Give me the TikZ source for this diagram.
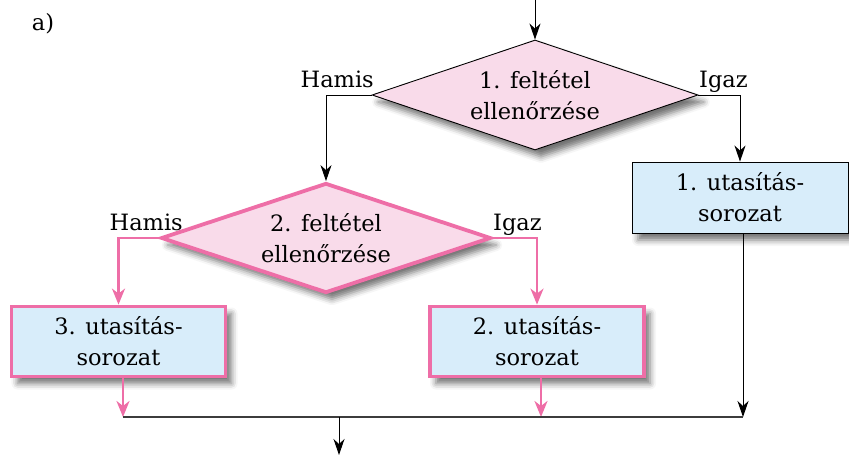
\documentclass[tikz,border=0pt]{standalone}
\usepackage{fontspec}
\setmainfont{DejaVu Serif}
\usetikzlibrary{shapes.geometric,arrows.meta,shadows.blur}
\definecolor{rozsa}{RGB}{238,110,167}
\definecolor{rozsafill}{RGB}{249,219,234}
\definecolor{kekfill}{RGB}{216,237,250}
\definecolor{vonal}{RGB}{60,60,60}

\begin{document}
\begin{tikzpicture}[x=1pt,y=-1pt,
  every node/.style={font=\fontsize{22.5}{31}\selectfont},
  arnyek/.style={blur shadow={shadow xshift=6pt,shadow yshift=-7pt,shadow blur radius=6pt,shadow opacity=55}},
  dontes/.style={diamond,aspect=2.95,inner sep=0pt,fill=rozsafill,align=center,arnyek},
  blokk/.style={rectangle,inner sep=0pt,fill=kekfill,align=center,arnyek},
  fekete/.style={draw=black,line width=0.9pt},
  rozsaszel/.style={draw=rozsa,line width=3.8pt},
  nyil/.style={-{Stealth[length=16pt,width=11pt,inset=5pt]},line width=1pt,draw=black},
  rnyil/.style={-{Stealth[length=16pt,width=13pt,inset=5pt]},line width=2.4pt,draw=rozsa},
  cimke/.style={inner sep=0pt}
]
\useasboundingbox (0,0) rectangle (849,455);

% label of the figure part
\node[cimke] (jel) at (43,24) {a)};

% decisions
\node[dontes,fekete,minimum width=326pt,minimum height=110pt] (d1) at (535,95)
  {1. feltétel\\ellenőrzése};
\node[dontes,rozsaszel,minimum width=330pt,minimum height=110pt] (d2) at (326,238)
  {2. feltétel\\ellenőrzése};

% statement blocks
\node[blokk,fekete,minimum width=216pt,minimum height=71pt] (b1) at (740,197.5)
  {1. utasítás-\\sorozat};
\node[blokk,rozsaszel,minimum width=214pt,minimum height=70pt] (b3) at (118.5,341.5)
  {3. utasítás-\\sorozat};
\node[blokk,rozsaszel,minimum width=214pt,minimum height=70pt] (b2) at (537,341.5)
  {2. utasítás-\\sorozat};

% branch labels
\node[cimke,anchor=base east] (h1) at (374,87) {Hamis};
\node[cimke,anchor=base west] (i1) at (699,87) {Igaz};
\node[cimke,anchor=base east] (h2) at (183,230) {Hamis};
\node[cimke,anchor=base west] (i2) at (493,230) {Igaz};

% entry, junction and exit points
\coordinate (be) at (535,0);
\coordinate (j1) at (123,417);
\coordinate (j2) at (541,417);
\coordinate (j3) at (743,417);
\coordinate (jm) at (339,417);
\coordinate (ki) at (339,455);

% connectors
\draw[nyil] (be) -- (d1.north);
\draw[nyil] (d1.west) -| (d2.north);
\draw[nyil] (d1.east) -| (b1.north);
\draw[rnyil] (d2.west) -| (b3.north);
\draw[rnyil] (d2.east) -| (b2.north);
\draw[rnyil] ([xshift=4.5pt]b3.south) -- (j1);
\draw[rnyil] ([xshift=4pt]b2.south) -- (j2);
\draw[nyil] ([xshift=3pt]b1.south) -- (j3);
\draw[vonal,line width=1.4pt] (j1) -- (j3);
\draw[nyil] (jm) -- (ki);
\end{tikzpicture}
\end{document}
